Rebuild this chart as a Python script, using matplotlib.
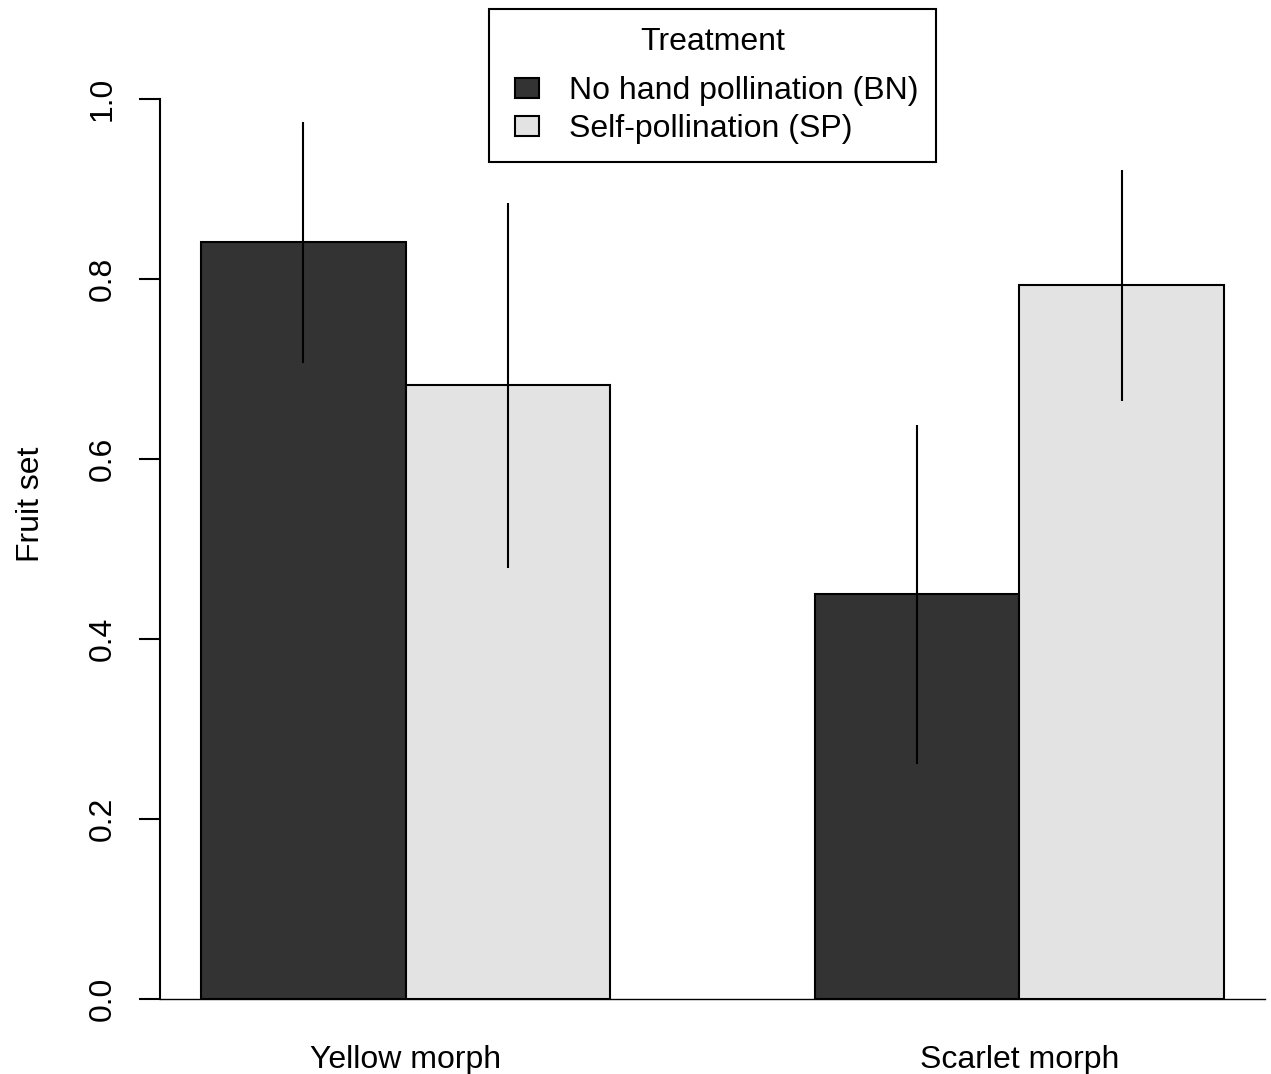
import matplotlib
matplotlib.use("Agg")
import matplotlib.pyplot as plt
from matplotlib.patches import Rectangle
from matplotlib.container import BarContainer
from matplotlib.legend_handler import HandlerPatch, update_from_first_child
import numpy as np

plt.rcParams['font.family'] = ['Liberation Sans', 'DejaVu Sans']

# values
morphs = ["Yellow morph", "Scarlet morph"]
treatments = ["No hand pollination (BN)", "Self-pollination (SP)"]
fruit_set = np.array([[0.841, 0.682],    # yellow: BN, SP
                      [0.450, 0.793]])   # scarlet: BN, SP
err_low = np.array([[0.707, 0.479],
                    [0.261, 0.664]])
err_high = np.array([[0.974, 0.884],
                     [0.638, 0.921]])
colors = ["#333333", "#e3e3e3"]

fig = plt.figure(figsize=(12.71, 10.74), dpi=100)
ax = fig.add_axes([160 / 1271, 75 / 1074, 1105 / 1271, 990 / 1074])

# R style barplot layout: width 1, space c(0, 1)
group_start = np.array([1.0, 4.0])
for j in range(2):
    x = group_start + j + 0.5
    ax.bar(x, fruit_set[:, j], width=1.0, color=colors[j], edgecolor="black",
           linewidth=1.5, label=treatments[j], zorder=2)
    ax.vlines(x, err_low[:, j], err_high[:, j], color="black", linewidth=1.5, zorder=3)

ax.axhline(0, color="black", linewidth=1.0, zorder=1, clip_on=False)
ax.set_xlim(0.8, 6.2)
ax.set_ylim(0, 1.1)

for s in ["top", "right", "bottom"]:
    ax.spines[s].set_visible(False)
ax.spines["left"].set_bounds(0, 1.0)
ax.spines["left"].set_linewidth(1.5)

ax.set_yticks([0, 0.2, 0.4, 0.6, 0.8, 1.0])
ax.set_yticklabels(["0.0", "0.2", "0.4", "0.6", "0.8", "1.0"], rotation=90, va="center")
ax.tick_params(axis="y", length=15, width=1.5, pad=15.5, labelsize=23)

ax.set_xticks(group_start + 1.0)
ax.set_xticklabels(morphs, fontsize=23)
ax.tick_params(axis="x", length=0, pad=33)

ax.set_ylabel("Fruit set", fontsize=23, labelpad=30)


# small square pushed to the right end of the handle slot, like R's legend
def square_patch(legend, orig_handle, xdescent, ydescent, width, height, fontsize):
    w = 0.75 * fontsize
    return Rectangle((width - w - xdescent, -ydescent), w, height)


leg = ax.legend(title="Treatment", loc="upper center", bbox_to_anchor=(0.5, 1.0),
                fontsize=23, title_fontsize=23, frameon=True, fancybox=False,
                edgecolor="black", framealpha=1, handlelength=1.0, handleheight=0.6,
                handletextpad=0.94, borderpad=0.55, labelspacing=0.26, borderaxespad=0,
                handler_map={BarContainer: HandlerPatch(patch_func=square_patch,
                                                        update_func=update_from_first_child)})
leg.get_frame().set_linewidth(1.5)
leg._legend_box.sep = 14

fig.savefig("out.png", dpi=100)
